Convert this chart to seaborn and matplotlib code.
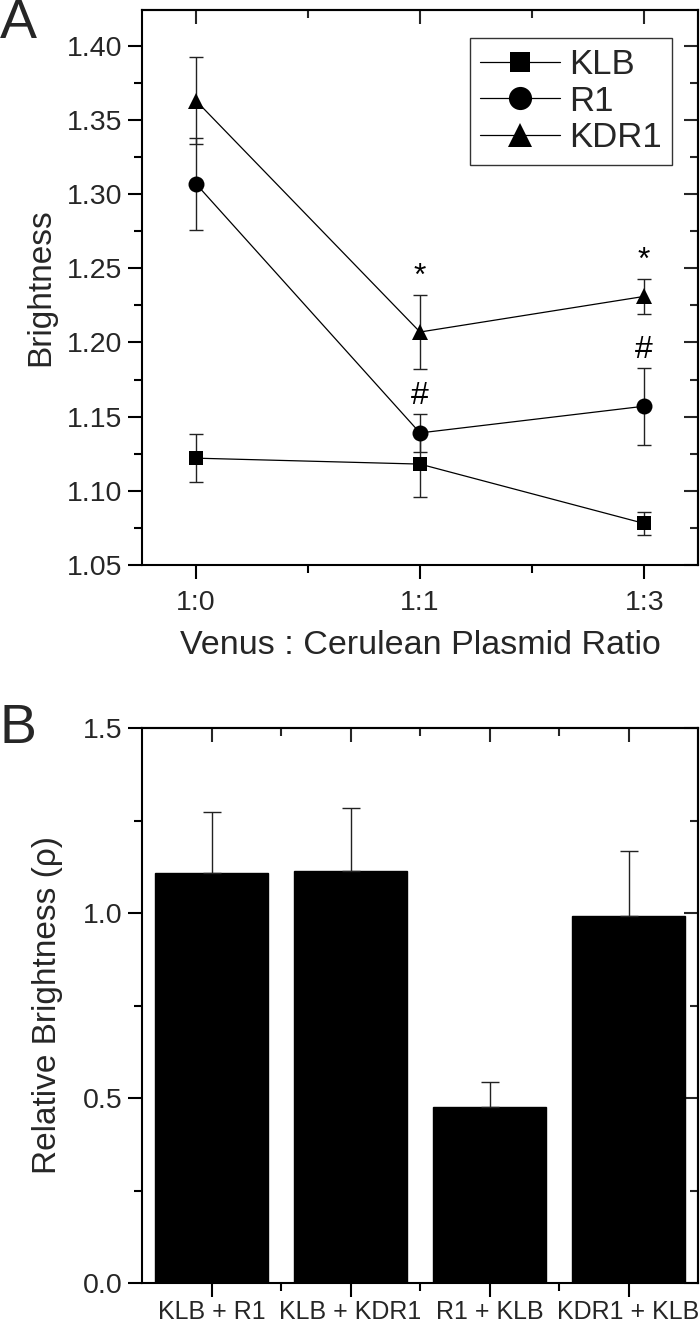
import matplotlib
matplotlib.use("Agg")
import matplotlib.pyplot as plt
from matplotlib.ticker import MultipleLocator, FormatStrFormatter
import seaborn as sns
import pandas as pd
import numpy as np

sns.set_theme(style="ticks")
plt.rcParams["font.family"] = ["Liberation Sans", "DejaVu Sans"]

# ── data: panel A ───────────────────────────────────────────────────────────
ratios = ["1:0", "1:1", "1:3"]
constructs = ["KLB", "R1", "KDR1"]
klb_mean = [1.122, 1.118, 1.078]
klb_err = [0.016, 0.022, 0.008]
r1_mean = [1.307, 1.139, 1.157]
r1_err = [0.031, 0.013, 0.026]
kdr1_mean = [1.363, 1.207, 1.231]
kdr1_err = [0.029, 0.025, 0.012]
# significance marks: (ratio index, construct, symbol)
sig_marks = [(1, "KDR1", "*"), (2, "KDR1", "*"), (1, "R1", "#"), (2, "R1", "#")]

# ── data: panel B ───────────────────────────────────────────────────────────
pairs = ["KLB + R1", "KLB + KDR1", "R1 + KLB", "KDR1 + KLB"]
rel_bright = [1.108, 1.113, 0.475, 0.992]
rel_err = [0.165, 0.171, 0.068, 0.175]

means = {"KLB": klb_mean, "R1": r1_mean, "KDR1": kdr1_mean}
errs = {"KLB": klb_err, "R1": r1_err, "KDR1": kdr1_err}
df = pd.DataFrame([
    {"pos": i, "ratio": r, "construct": c, "value": means[c][i], "err": errs[c][i]}
    for c in constructs for i, r in enumerate(ratios)
])

TICK_FS = 20.5
LABEL_FS = 24
fig = plt.figure(figsize=(7, 13.29), dpi=100)
axA = fig.add_axes([142 / 700, 1 - 565 / 1329, 556 / 700, 555 / 1329])
axB = fig.add_axes([142 / 700, 1 - 1283 / 1329, 556 / 700, 555 / 1329])


def style_axes(ax, xmajor, xminor, ymajor, yminor):
    for sp in ax.spines.values():
        sp.set_visible(True)
        sp.set_linewidth(1.5)
        sp.set_color("black")
    ax.set_xticks(xmajor)
    ax.set_xticks(xminor, minor=True)
    ax.yaxis.set_major_locator(MultipleLocator(ymajor))
    ax.yaxis.set_minor_locator(MultipleLocator(yminor))
    ax.tick_params(which="major", direction="out", length=10, width=1.5,
                   labelsize=TICK_FS, color="black", pad=4)
    ax.tick_params(which="minor", direction="out", length=5.5, width=1.5, color="black")
    # mirrored ticks pointing inwards on top / right
    top = ax.secondary_xaxis("top")
    top.set_xticks(xmajor)
    top.set_xticks(xminor, minor=True)
    top.tick_params(which="major", direction="in", length=10, width=1.5, labeltop=False)
    top.tick_params(which="minor", direction="in", length=5.5, width=1.5)
    right = ax.secondary_yaxis("right")
    right.yaxis.set_major_locator(MultipleLocator(ymajor))
    right.yaxis.set_minor_locator(MultipleLocator(yminor))
    right.tick_params(which="major", direction="in", length=10, width=1.5, labelright=False)
    right.tick_params(which="minor", direction="in", length=5.5, width=1.5)
    for sec in (top, right):
        for sp in sec.spines.values():
            sp.set_linewidth(1.5)


# ── panel A ─────────────────────────────────────────────────────────────────
marker_map = {"KLB": "s", "R1": "o", "KDR1": "^"}
size_map = {"KLB": 10, "R1": 11.5, "KDR1": 12}
for c in constructs:
    sub = df[df["construct"] == c]
    axA.errorbar(sub["pos"], sub["value"], yerr=sub["err"], fmt="none",
                 ecolor="#222222", elinewidth=1.0, capsize=5, capthick=1.0, zorder=2)
    sns.lineplot(data=sub, x="pos", y="value", color="black", marker=marker_map[c],
                 markersize=size_map[c], markeredgewidth=0, linewidth=0.9,
                 label=c, ax=axA, zorder=3, errorbar=None)

for i, c, sym in sig_marks:
    top_y = means[c][i] + errs[c][i]
    axA.text(i, top_y + 0.002, sym, ha="center", va="bottom", fontsize=23, color="black")

axA.set_xlim(-0.24, 2.24)
axA.set_ylim(1.05, 1.424)
style_axes(axA, [0, 1, 2], [0.5, 1.5], 0.05, 0.025)
axA.set_xticklabels(ratios)
axA.yaxis.set_major_formatter(FormatStrFormatter("%.2f"))
axA.tick_params(axis="x", pad=8)
axA.set_xlabel("Venus : Cerulean Plasmid Ratio", fontsize=LABEL_FS + 0.5, labelpad=10)
axA.set_ylabel("Brightness", fontsize=LABEL_FS, labelpad=8)

handles, labels = axA.get_legend_handles_labels()
leg = axA.legend(handles, labels, loc="upper right", bbox_to_anchor=(0.953, 0.95),
                 borderaxespad=0, fontsize=25, handlelength=2.3, handletextpad=0.25,
                 labelspacing=0.1, borderpad=0.3, fancybox=False, framealpha=1,
                 edgecolor="#333333", markerscale=1.45)
leg.get_frame().set_linewidth(1.0)

fig.text(0 / 700, 1 - 24 / 1329, "A", fontsize=40, va="center", ha="left")

# ── panel B ─────────────────────────────────────────────────────────────────
dfB = pd.DataFrame({"pair": pairs, "rel": rel_bright, "err": rel_err})
sns.barplot(data=dfB, x="pair", y="rel", color="black", saturation=1, width=0.82,
            edgecolor="black", ax=axB, zorder=2)
axB.errorbar(np.arange(len(pairs)), dfB["rel"], yerr=[np.zeros(len(pairs)), dfB["err"]],
             fmt="none", ecolor="#222222", elinewidth=1.0, capsize=6.5, capthick=1.0, zorder=3)
axB.set_xlim(-0.5, len(pairs) - 0.5)
axB.set_ylim(0, 1.5)
style_axes(axB, list(range(len(pairs))), [0.5, 1.5, 2.5], 0.5, 0.25)
axB.set_xticklabels(pairs, fontsize=18)
axB.tick_params(axis="x", pad=2)
axB.yaxis.set_major_formatter(FormatStrFormatter("%.1f"))
axB.set_xlabel("")
axB.set_ylabel("Relative Brightness (\u03c1)", fontsize=LABEL_FS, labelpad=14)

fig.text(0 / 700, 1 - 729 / 1329, "B", fontsize=40, va="center", ha="left")

fig.savefig("out.png", dpi=100)
